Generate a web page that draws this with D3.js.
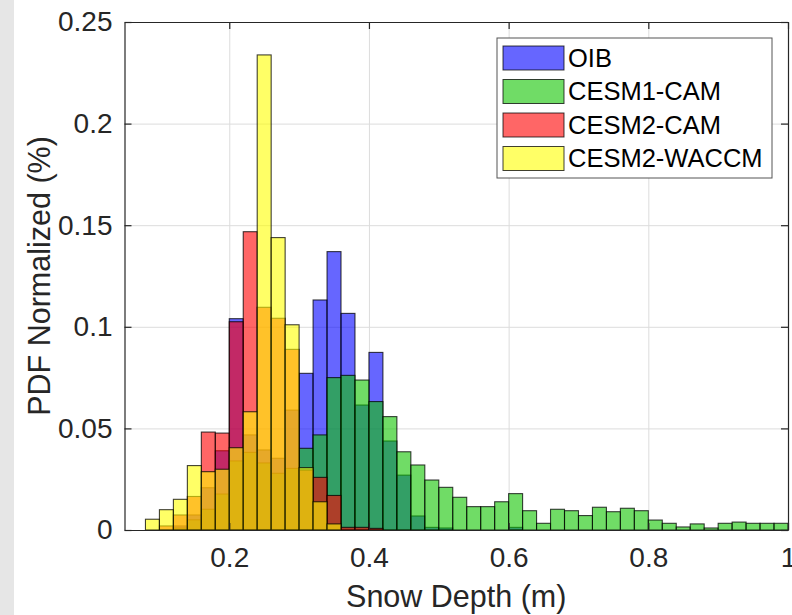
<!DOCTYPE html>
<html>
<head>
<meta charset="utf-8">
<script src="https://cdn.jsdelivr.net/npm/d3@7"></script>
<style>
  body { margin: 0; background: #fff; }
  svg { display: block; font-family: "Liberation Sans", Arial, Helvetica, sans-serif; }
</style>
</head>
<body>
<svg id="chart" width="792" height="615"></svg>
<script>
// histogram bin edges (m), bins are 0.02 wide
const binEdges = [0.08, 0.10, 0.12, 0.14, 0.16, 0.18, 0.20, 0.22, 0.24, 0.26,
  0.28, 0.30, 0.32, 0.34, 0.36, 0.38, 0.40, 0.42, 0.44, 0.46,
  0.48, 0.50, 0.52, 0.54, 0.56, 0.58, 0.60, 0.62, 0.64, 0.66,
  0.68, 0.70, 0.72, 0.74, 0.76, 0.78, 0.80, 0.82, 0.84, 0.86,
  0.88, 0.90, 0.92, 0.94, 0.96, 0.98, 1.00];

const seriesNames = ["OIB", "CESM1-CAM", "CESM2-CAM", "CESM2-WACCM"];
const seriesColors = ["#0000ff", "#10c400", "#ff0000", "#ffff00"];

const oib = [0, 0, 0.002, 0.0074, 0.0208, 0.039, 0.104, 0.0468, 0.0394, 0.0353,
  0.059, 0.0771, 0.1132, 0.137, 0.1066, 0.0615, 0.0874, 0.0438, 0.027, 0.0069,
  0.0013, 0.001, 0, 0, 0, 0, 0.0013, 0, 0, 0,
  0, 0, 0, 0, 0, 0, 0, 0, 0, 0,
  0, 0, 0, 0, 0, 0];

const cesm1Cam = [0, 0, 0.001, 0.005, 0.0102, 0.0177, 0.034, 0.0382, 0.033, 0.0279,
  0.0303, 0.0402, 0.0468, 0.075, 0.0761, 0.0738, 0.0632, 0.0558, 0.0385, 0.032,
  0.0246, 0.021, 0.0161, 0.0115, 0.0115, 0.0139, 0.0179, 0.0095, 0.0033, 0.0102,
  0.0095, 0.0071, 0.0112, 0.009, 0.0107, 0.0095, 0.0049, 0.0033, 0.0015, 0.003,
  0.001, 0.0033, 0.0039, 0.0033, 0.0033, 0.0033];

const cesm2Cam = [0, 0.002, 0.0074, 0.0165, 0.0482, 0.0477, 0.1025, 0.1468, 0.1096, 0.1042,
  0.0889, 0.0295, 0.0259, 0.017, 0.0013, 0.0013, 0.0008, 0, 0, 0,
  0, 0, 0, 0, 0, 0, 0, 0, 0, 0,
  0, 0, 0, 0, 0, 0, 0, 0, 0, 0,
  0, 0, 0, 0, 0, 0];

const cesm2Waccm = [0.0053, 0.01, 0.0151, 0.0317, 0.0287, 0.0299, 0.0405, 0.0582, 0.2338, 0.1439,
  0.101, 0.0307, 0.0139, 0.003, 0, 0, 0, 0, 0, 0,
  0, 0, 0, 0, 0, 0, 0, 0, 0, 0,
  0, 0, 0, 0, 0, 0, 0, 0, 0, 0,
  0, 0, 0, 0, 0, 0];

const xTicks = [0.2, 0.4, 0.6, 0.8, 1];
const yTicks = [0, 0.05, 0.1, 0.15, 0.2, 0.25];

const allSeries = [oib, cesm1Cam, cesm2Cam, cesm2Waccm];

const svg = d3.select("#chart"),
  margin = { top: 22, right: 4, bottom: 85, left: 124.5 },
  width = +svg.attr("width") - margin.left - margin.right,
  height = +svg.attr("height") - margin.top - margin.bottom;

// grey strip at the left edge of the slide
svg.append("rect").attr("x", 0).attr("y", 0).attr("width", 14).attr("height", 615).attr("fill", "#e6e6e6");

const chart = svg.append("g").attr("transform", `translate(${margin.left},${margin.top})`);

const x = d3.scaleLinear().domain([0.05, 1]).range([0, width]);
const y = d3.scaleLinear().domain([0, 0.25]).range([height, 0]);

// grid
chart.append("g")
  .attr("transform", `translate(0,${height})`)
  .call(d3.axisBottom(x).tickValues(xTicks).tickSize(-height).tickFormat(""))
  .call(g => g.select(".domain").remove())
  .call(g => g.selectAll("line").attr("stroke", "#dcdcdc"));
chart.append("g")
  .call(d3.axisLeft(y).tickValues(yTicks).tickSize(-width).tickFormat(""))
  .call(g => g.select(".domain").remove())
  .call(g => g.selectAll("line").attr("stroke", "#dcdcdc"));

// histograms, drawn in legend order so later ones sit on top
allSeries.forEach((vals, s) => {
  const bins = vals.map((v, i) => ({ x0: binEdges[i], x1: binEdges[i + 1], v })).filter(d => d.v > 0);
  chart.append("g")
    .selectAll("rect")
    .data(bins)
    .enter().append("rect")
    .attr("x", d => x(d.x0))
    .attr("y", d => y(d.v))
    .attr("width", d => x(d.x1) - x(d.x0))
    .attr("height", d => y(0) - y(d.v))
    .attr("fill", seriesColors[s])
    .attr("fill-opacity", 0.6)
    .attr("stroke", "#000")
    .attr("stroke-opacity", 0.75)
    .attr("stroke-width", 1.1);
});

// axes (box with inward ticks)
const axisColor = "#262626";
function styleAxis(g) {
  g.select(".domain").attr("stroke", axisColor).attr("stroke-width", 1.2);
  g.selectAll(".tick line").attr("stroke", axisColor).attr("stroke-width", 1.2);
  g.selectAll(".tick text").attr("fill", axisColor).style("font-size", "28px");
}

chart.append("g")
  .attr("transform", `translate(0,${height})`)
  .call(d3.axisBottom(x).tickValues(xTicks).tickSizeInner(-7).tickSizeOuter(0).tickPadding(17).tickFormat(d => d))
  .call(styleAxis);
chart.append("g")
  .call(d3.axisTop(x).tickValues(xTicks).tickSizeInner(-7).tickSizeOuter(0).tickFormat(""))
  .call(styleAxis);
chart.append("g")
  .call(d3.axisLeft(y).tickValues(yTicks).tickSizeInner(-7).tickSizeOuter(0).tickPadding(12).tickFormat(d => d))
  .call(styleAxis);
chart.append("g")
  .attr("transform", `translate(${width},0)`)
  .call(d3.axisRight(y).tickValues(yTicks).tickSizeInner(-7).tickSizeOuter(0).tickFormat(""))
  .call(styleAxis);

// axis labels
svg.append("text")
  .attr("x", margin.left + width / 2)
  .attr("y", 607)
  .attr("text-anchor", "middle")
  .attr("fill", axisColor)
  .style("font-size", "30.5px")
  .text("Snow Depth (m)");

svg.append("text")
  .attr("transform", `translate(50,${margin.top + height / 2}) rotate(-90)`)
  .attr("text-anchor", "middle")
  .attr("fill", axisColor)
  .style("font-size", "30.5px")
  .text("PDF Normalized (%)");

// legend
const legend = svg.append("g").attr("transform", "translate(497,38)");
legend.append("rect")
  .attr("width", 275)
  .attr("height", 140)
  .attr("fill", "#fff")
  .attr("stroke", "#555")
  .attr("stroke-width", 1);

const item = legend.selectAll(".legend")
  .data(seriesNames)
  .enter().append("g")
  .attr("class", "legend")
  .attr("transform", (d, i) => `translate(6, ${8 + i * 33.5})`);

item.append("rect")
  .attr("width", 61)
  .attr("height", 24)
  .attr("fill", (d, i) => seriesColors[i])
  .attr("fill-opacity", 0.6)
  .attr("stroke", "#000")
  .attr("stroke-opacity", 0.75);

item.append("text")
  .attr("x", 65)
  .attr("y", 12)
  .attr("dy", "0.35em")
  .attr("fill", "#000")
  .style("font-size", "25.5px")
  .text(d => d);
</script>
</body>
</html>
